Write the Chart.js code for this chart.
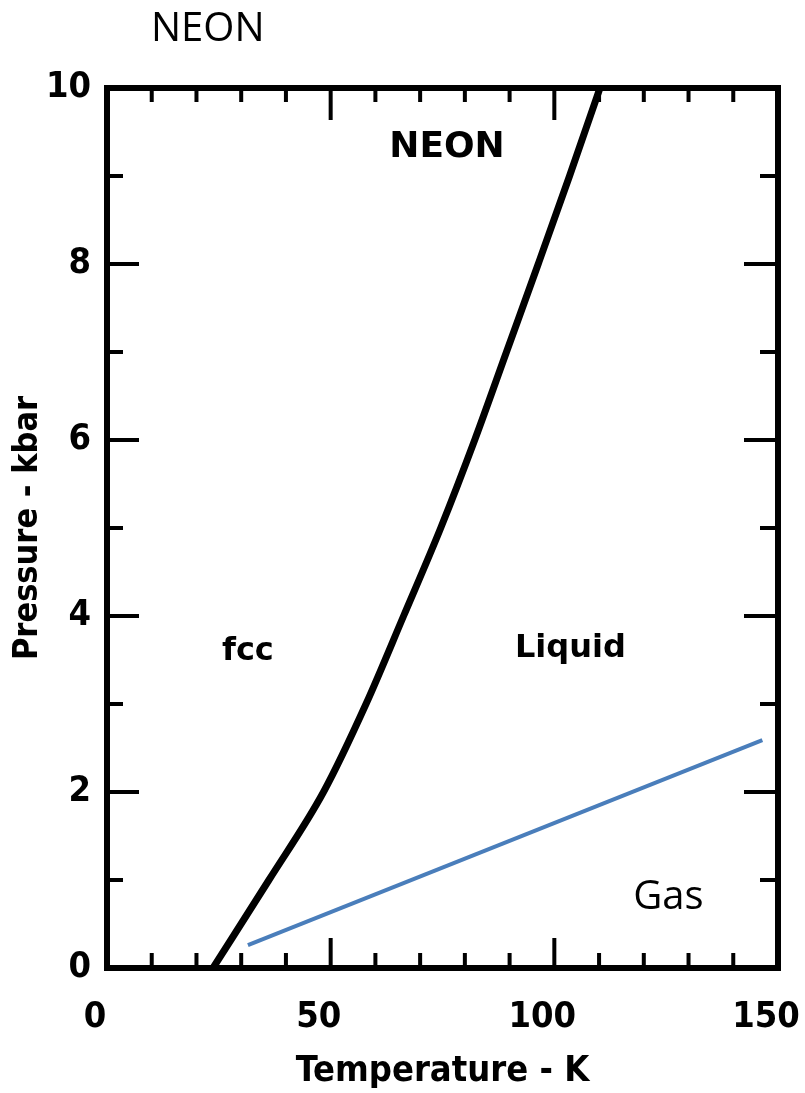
<!DOCTYPE html>
<html>
<head>
<meta charset="utf-8">
<script src="https://cdn.jsdelivr.net/npm/chart.js@4"></script>
<style>
  body { margin: 0; background: #fff; }
  #wrap { width: 805px; height: 1093px; }
</style>
</head>
<body>
<div id="wrap"><canvas id="myChart" width="805" height="1093"></canvas></div>
<script>
// melting curve of neon (fcc / liquid boundary)
const meltT = [23.7, 36.2, 48.4, 57.9, 66.3, 74.6, 82.2, 89.3, 96.4, 103.4, 110.2];
const meltP = [0, 1, 2, 3, 4, 5, 6, 7, 8, 9, 10];

// blue line added on top of the scan
const gasT = [31.5, 146.5];
const gasP = [0.26, 2.59];

const xTicks = [0, 50, 100, 150];
const yTicks = [0, 2, 4, 6, 8, 10];

// region labels: text, T, P
const regionText = ["NEON", "fcc", "Liquid"];
const regionT = [76, 31.5, 103.6];
const regionP = [9.32, 3.6, 3.63];

const ctx = document.getElementById("myChart");
const scanFont = "'DejaVu Sans', sans-serif";
const tickFont = "'DejaVu Sans Condensed', 'DejaVu Sans', sans-serif";

function toPoints(xs, ys) {
  return xs.map((x, i) => ({ x: x, y: ys[i] }));
}

// frame, inward ticks and text labels
const scanPlugin = {
  id: "scan",
  afterDraw(chart) {
    const c = chart.ctx;
    const a = chart.chartArea;
    const xs = chart.scales.x;
    const ys = chart.scales.y;
    c.save();
    c.strokeStyle = "#000";
    c.lineCap = "butt";

    c.lineWidth = 4;
    for (let t = 10; t < 150; t += 10) {
      const px = xs.getPixelForValue(t);
      const major = t % 50 === 0;
      c.beginPath();
      c.moveTo(px, a.bottom);
      c.lineTo(px, a.bottom - (major ? 30 : 15));
      c.moveTo(px, a.top);
      c.lineTo(px, a.top + (major ? 32 : 14));
      c.stroke();
    }
    for (let p = 1; p < 10; p++) {
      const py = ys.getPixelForValue(p);
      const major = p % 2 === 0;
      c.beginPath();
      c.moveTo(a.left, py);
      c.lineTo(a.left + (major ? 32 : 16), py);
      c.moveTo(a.right, py);
      c.lineTo(a.right - (major ? 34 : 18), py);
      c.stroke();
    }

    c.lineWidth = 6;
    c.strokeRect(a.left, a.top, a.right - a.left, a.bottom - a.top);

    c.fillStyle = "#000";
    c.textAlign = "center";
    c.textBaseline = "middle";
    for (let i = 0; i < regionText.length; i++) {
      c.font = "bold " + (i === 0 ? 36 : 32) + "px " + scanFont;
      c.fillText(regionText[i], xs.getPixelForValue(regionT[i]), ys.getPixelForValue(regionP[i]));
    }

    c.font = "40px 'Open Sans', sans-serif";
    c.fillText("Gas", xs.getPixelForValue(125.5), ys.getPixelForValue(0.8));
    c.textAlign = "left";
    c.fillText("NEON", a.left + 44, 30);
    c.restore();
  }
};

new Chart(ctx, {
  type: "scatter",
  data: {
    datasets: [
      {
        label: "Melting curve",
        data: toPoints(meltT, meltP),
        showLine: true,
        borderColor: "#000",
        borderWidth: 7,
        pointRadius: 0,
        cubicInterpolationMode: "monotone",
      },
      {
        label: "Gas boundary",
        data: toPoints(gasT, gasP),
        showLine: true,
        borderColor: "#4a7ebb",
        borderWidth: 4,
        pointRadius: 0,
      }
    ]
  },
  options: {
    responsive: false,
    animation: false,
    layout: { padding: { top: 88, right: 27, left: 0, bottom: 0 } },
    plugins: {
      legend: { display: false },
      tooltip: { enabled: false },
    },
    scales: {
      x: {
        type: "linear",
        min: 0,
        max: 150,
        afterBuildTicks: (s) => { s.ticks = xTicks.map((v) => ({ value: v })); },
        afterFit: (s) => { s.height = 125; s.paddingLeft = 0; s.paddingRight = 0; },
        grid: { display: false },
        border: { display: false },
        ticks: {
          color: "#000",
          padding: 20,
          labelOffset: -12,
          maxRotation: 0,
          font: { family: tickFont, size: 36, weight: "bold" },
        },
        title: {
          display: true,
          text: "Temperature - K",
          color: "#000",
          padding: { top: 0, bottom: 0 },
          font: { family: tickFont, size: 36, weight: "bold" },
        },
      },
      y: {
        type: "linear",
        min: 0,
        max: 10,
        afterBuildTicks: (s) => { s.ticks = yTicks.map((v) => ({ value: v })); },
        afterFit: (s) => { s.width = 107; },
        grid: { display: false },
        border: { display: false },
        ticks: {
          color: "#000",
          padding: 8,
          font: { family: tickFont, size: 36, weight: "bold" },
        },
        title: {
          display: true,
          text: "Pressure - kbar",
          color: "#000",
          padding: { top: 8, bottom: 0 },
          font: { family: tickFont, size: 34, weight: "bold" },
        },
      },
    },
  },
  plugins: [scanPlugin],
});
</script>
</body>
</html>
